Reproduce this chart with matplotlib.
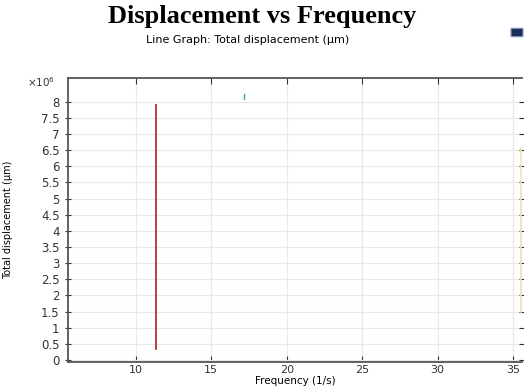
import matplotlib.pyplot as plt
from matplotlib.patches import FancyBboxPatch
from matplotlib.ticker import FuncFormatter

# frequency (1/s) and total displacement (um) of the visible traces
red_freq = [11.33, 11.33]
red_disp = [0.35e6, 7.9e6]
teal_freq = [17.2, 17.2]
teal_disp = [8.08e6, 8.25e6]
yellow_freq = [35.55, 35.55]
yellow_disp = [1.5e6, 6.55e6]

x_ticks = [10, 15, 20, 25, 30, 35]
y_ticks = [0, 0.5e6, 1e6, 1.5e6, 2e6, 2.5e6, 3e6, 3.5e6, 4e6, 4.5e6,
		   5e6, 5.5e6, 6e6, 6.5e6, 7e6, 7.5e6, 8e6]

fig = plt.figure(figsize=(5.24, 3.87), dpi=100)
ax = fig.add_axes([68 / 524, 25 / 387, 454 / 524, 284 / 387])

ax.plot(red_freq, red_disp, color='#b8302c', lw=1.3)
ax.plot(teal_freq, teal_disp, color='#3aa88e', lw=1.0)
ax.plot(yellow_freq, yellow_disp, color='#f1e4a6', lw=1.2, clip_on=False)

ax.set_xlim(5.5, 35.6)
ax.set_ylim(-0.06e6, 8.73e6)
ax.set_xticks(x_ticks)
ax.set_yticks(y_ticks)
ax.yaxis.set_major_formatter(FuncFormatter(lambda v, p: '%g' % (v / 1e6)))

ax.grid(True, color='#e8e8e8', lw=0.8)
ax.set_axisbelow(True)
for s in ['left', 'bottom', 'top']:
	ax.spines[s].set_color('#555555')
	ax.spines[s].set_linewidth(1.3)
ax.spines['right'].set_visible(False)

ax.tick_params(axis='x', direction='in', top=True, length=4, width=0.8,
			   labelsize=8, colors='#333333', pad=2)
ax.tick_params(axis='y', direction='inout', right=True, length=4, width=0.8,
			   labelsize=8.5, colors='#333333', pad=4)

ax.set_xlabel('Frequency (1/s)', fontsize=7.5)
ax.xaxis.set_label_coords(0.5, -0.05)
ax.set_ylabel('Total displacement (\u00b5m)', fontsize=7)
ax.yaxis.set_label_coords(-0.121, 0.5)
ax.text(-0.029, 0.986, '\u00d710$^6$', transform=ax.transAxes, fontsize=7.5,
		ha='right', va='center', color='#333333')

fig.text(0.5, 1 - 17 / 387, 'Displacement vs Frequency', ha='center', va='center',
		 fontsize=19, fontweight='bold', family='Liberation Serif')
fig.text(248 / 524, 1 - 40 / 387, 'Line Graph: Total displacement (\u00b5m)',
		 ha='center', va='center', fontsize=8)

icon = FancyBboxPatch((512 / 524, 1 - 36 / 387), 10 / 524, 7 / 387,
					  boxstyle='round,pad=0.002', transform=fig.transFigure,
					  facecolor='#1c2e5a', edgecolor='#8fa4c8', lw=0.8)
fig.patches.append(icon)

fig.savefig('out.png', dpi=100)
